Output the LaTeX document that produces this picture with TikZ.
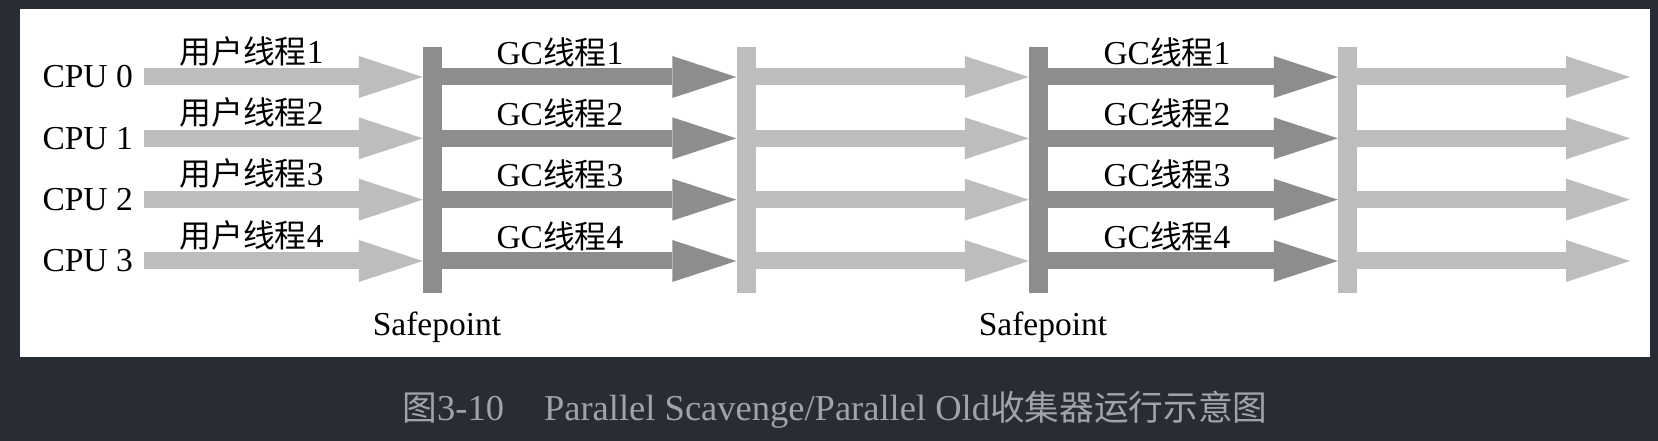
\documentclass[tikz,border=0pt]{standalone}
\usepackage{fontspec}
\setmainfont{Liberation Serif}
\newfontfamily\cjk[Scale=0.95]{Noto Sans CJK SC}
\usetikzlibrary{arrows.meta,positioning}

\definecolor{bgdark}{RGB}{40,44,52}
\definecolor{thrlight}{RGB}{187,189,190}
\definecolor{thrdark}{RGB}{139,141,143}
\definecolor{captgray}{RGB}{160,164,168}

\tikzset{
  sbar/.style={fill=#1, minimum width=19pt, minimum height=246pt, inner sep=0pt},
  thread/.style={draw=#1, line width=17pt,
    -{Triangle[length=64pt,width=42pt,line width=0pt]}},
  lbl/.style={font=\fontsize{33.5}{36}\selectfont, inner sep=0pt},
}

\begin{document}
\begin{tikzpicture}[x=1pt,y=-1pt]

\fill[bgdark] (0,0) rectangle (1658,441) ;
\useasboundingbox (0,0) rectangle (1658,441) ;
\fill[white] (20,9) rectangle (1650,357) ;

\node[sbar=thrdark] (sp1) at (432.5,170) {} ;
\node[sbar=thrlight] (end1) at (746,170) {} ;
\node[sbar=thrdark] (sp2) at (1038.5,170) {} ;
\node[sbar=thrlight] (end2) at (1347.5,170) {} ;

\foreach \i [evaluate=\i as \y using 77+61.33*\i] in {0,...,3} {
  \coordinate (start\i) at (144,\y) ;
  \coordinate (stop\i) at (1630,\y) ;
  \pgfmathtruncatemacro{\n}{\i+1}

  \node[lbl, left=11pt of start\i] (cpu\i) {CPU \i} ;
  \node[lbl] (user\i) at (251.5,\y-26) {{\cjk 用户线程}\n} ;
  \node[lbl] (gca\i) at (560,\y-25) {GC{\cjk 线程}\n} ;
  \node[lbl] (gcb\i) at (1167,\y-25) {GC{\cjk 线程}\n} ;

  \draw[thread=thrlight] (start\i) -- (sp1.west |- start\i) ;
  \draw[thread=thrdark] (sp1.east |- start\i) -- (end1.west |- start\i) ;
  \draw[thread=thrlight] (end1.east |- start\i) -- (sp2.west |- start\i) ;
  \draw[thread=thrdark] (sp2.east |- start\i) -- (end2.west |- start\i) ;
  \draw[thread=thrlight] (end2.east |- start\i) -- (stop\i) ;
}

\node[lbl] (safe1) at (437,327) {Safepoint} ;
\node[lbl] (safe2) at (1043,327) {Safepoint} ;

\node[font=\fontsize{36.5}{40}\selectfont, text=captgray, inner sep=0pt] (caption) at (835,410)
  {{\cjk 图}3-10\hspace{40pt}Parallel Scavenge/Parallel Old{\cjk 收集器运行示意图}} ;

\end{tikzpicture}
\end{document}
